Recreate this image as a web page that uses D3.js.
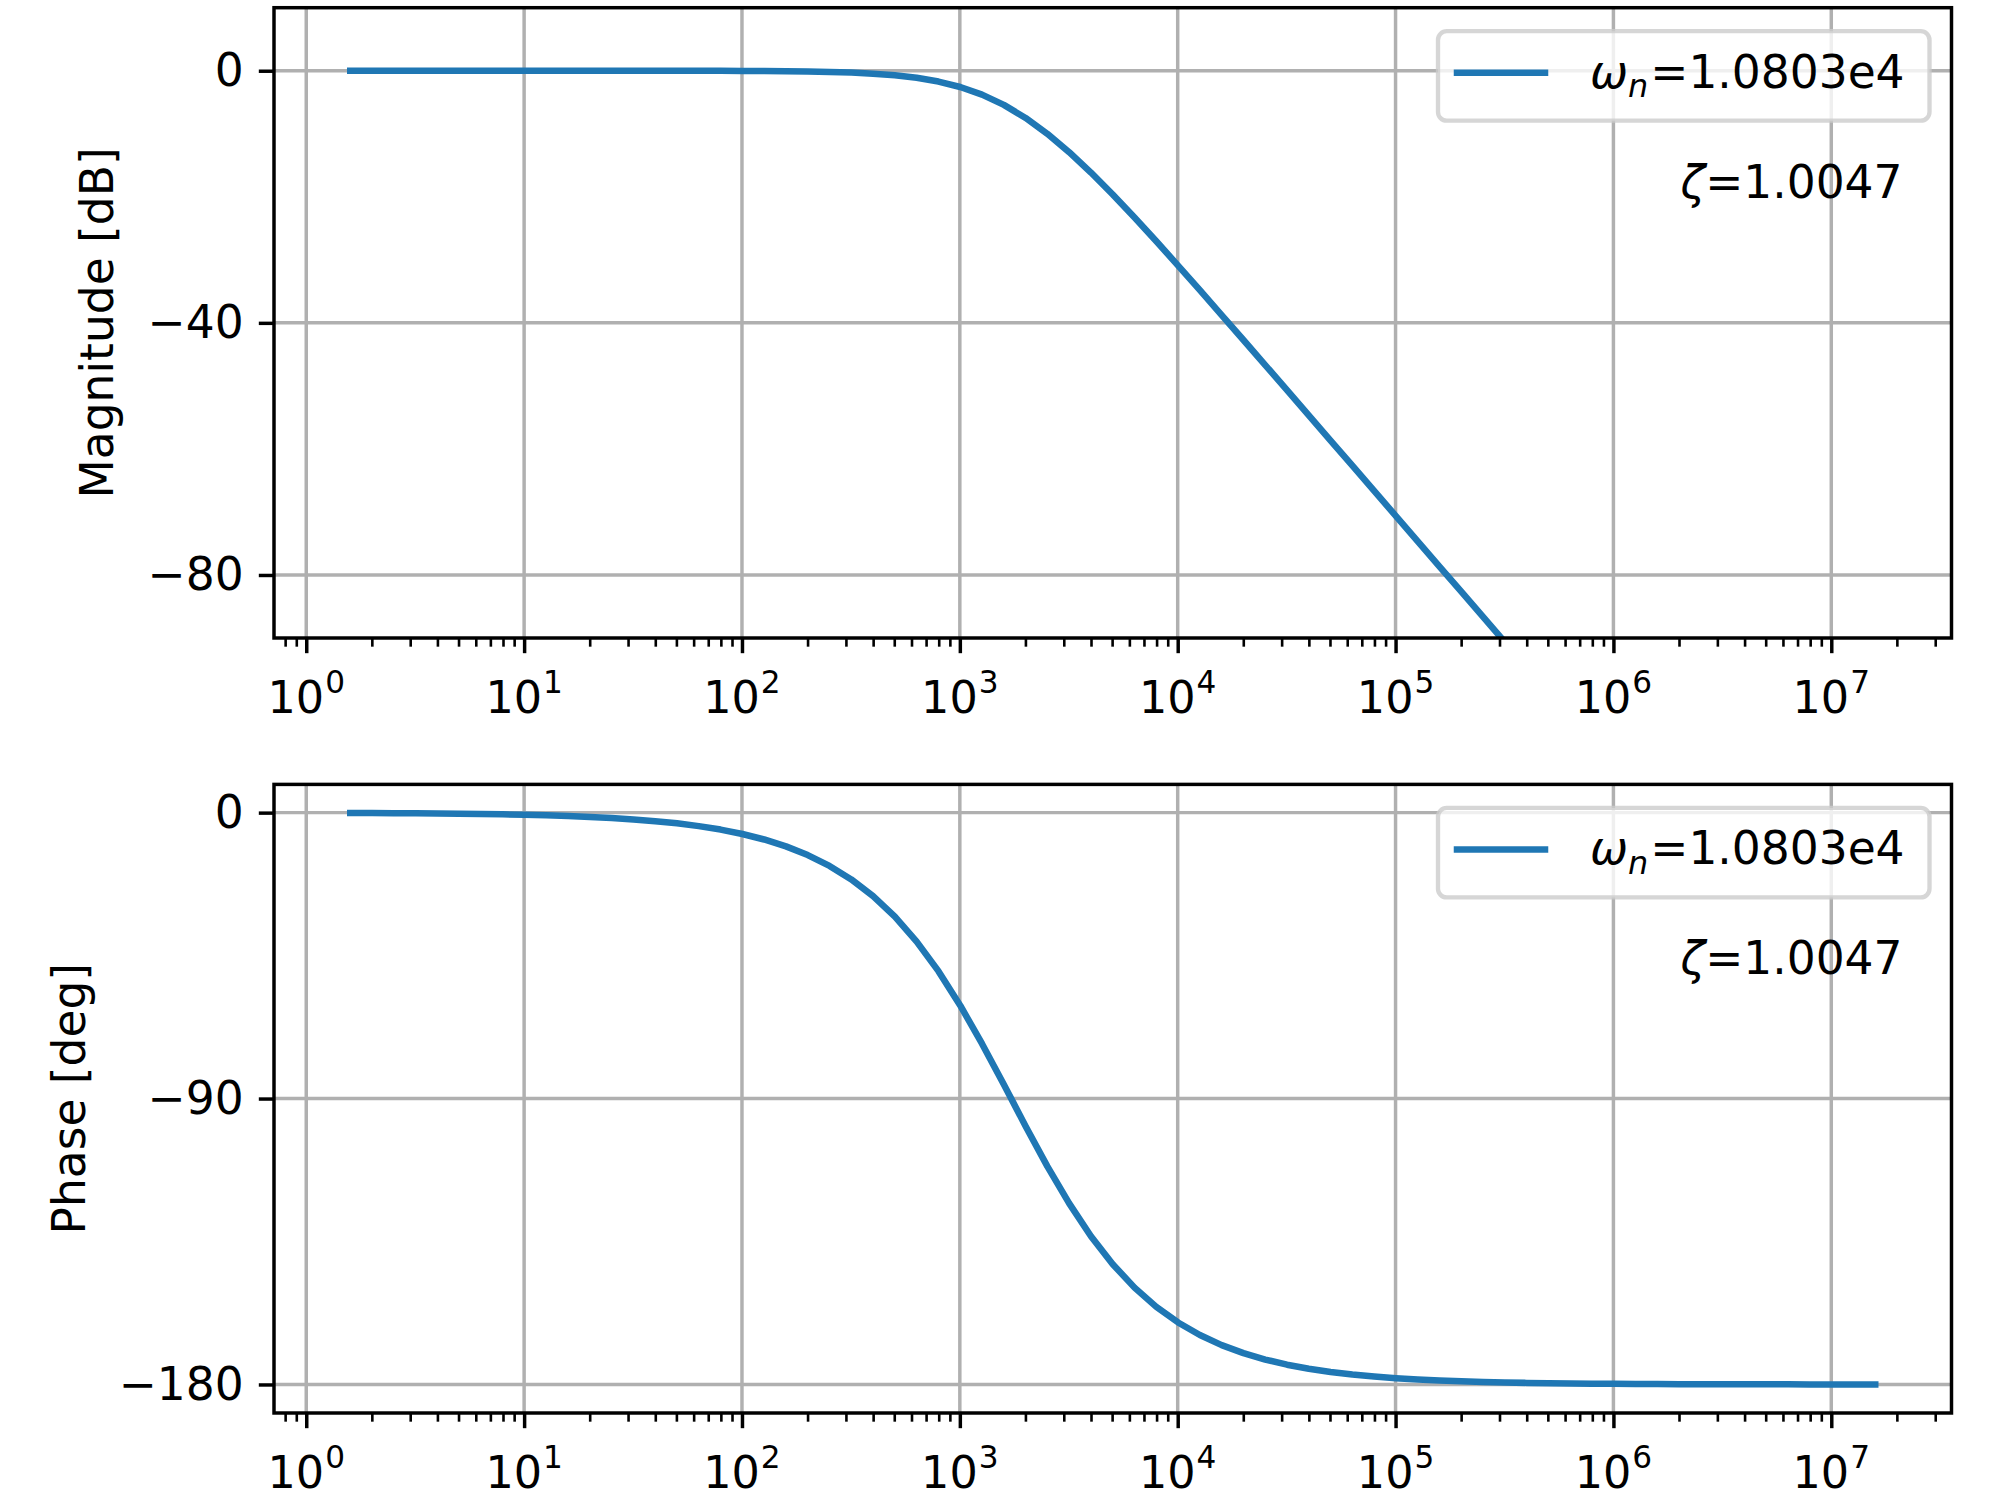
<!DOCTYPE html>
<html>
<head>
<meta charset="utf-8">
<script src="https://cdn.jsdelivr.net/npm/d3@7"></script>
<style>
  body { margin: 0; background: #ffffff; }
  svg { display: block; }
  text { font-family: "DejaVu Sans", sans-serif; fill: #000; }
</style>
</head>
<body>
<svg id="chart" width="2000" height="1499"></svg>
<script>
// ---------------- data ----------------
const freqHz = [
  1.592, 2.004, 2.522, 3.176, 3.998, 5.033, 6.336, 7.977, 10.04, 12.64,
  15.92, 20.04, 25.22, 31.76, 39.98, 50.33, 63.36, 79.77, 100.4, 126.4,
  159.2, 200.4, 252.2, 317.6, 399.8, 503.3, 633.6, 797.7, 1004, 1264,
  1592, 2004, 2522, 3176, 3998, 5033, 6336, 7977, 10042, 12642,
  15915, 20036, 25224, 31755, 39978, 50329, 63361, 79767, 100421, 126422,
  159155, 200364, 252243, 317554, 399777, 503292, 633609, 797667, 1004210, 1264220,
  1591550, 2003640, 2522430, 3175540, 3997770, 5032920, 6336090, 7976670, 10042100, 12642200,
  15915500
];
const magnitudeDb = [
  0.0000, 0.0000, 0.0000, 0.0000, 0.0000, -0.0001, -0.0001, -0.0002, -0.0003, -0.0005,
  -0.0008, -0.0012, -0.0019, -0.0030, -0.0048, -0.0076, -0.0120, -0.0190, -0.0302, -0.0477,
  -0.0755, -0.1193, -0.1883, -0.2966, -0.4653, -0.7260, -1.1233, -1.7170, -2.5803, -3.7912,
  -5.416, -7.491, -10.008, -12.920, -16.154, -19.632, -23.286, -27.060, -30.914, -34.820,
  -38.761, -42.723, -46.699, -50.684, -54.674, -58.668, -62.665, -66.662, -70.661, -74.660,
  -78.659, -82.659, -86.658, -90.658, -94.658, -98.658, -102.658, -106.658, -110.658, -114.658,
  -118.658, -122.658, -126.658, -130.658, -134.658, -138.658, -142.658, -146.658, -150.658, -154.658,
  -158.658
];
const phaseDeg = [
  -0.107, -0.134, -0.169, -0.213, -0.268, -0.337, -0.424, -0.534, -0.672, -0.846,
  -1.066, -1.342, -1.689, -2.125, -2.676, -3.369, -4.241, -5.337, -6.716, -8.449,
  -10.626, -13.355, -16.767, -21.019, -26.286, -32.755, -40.592, -49.909, -60.690, -72.730,
  -85.600, -98.694, -111.351, -123.013, -133.324, -142.147, -149.519, -155.571, -160.484, -164.441,
  -167.612, -170.146, -172.165, -173.773, -175.052, -176.069, -176.877, -177.519, -178.029, -178.434,
  -178.756, -179.012, -179.215, -179.377, -179.505, -179.607, -179.688, -179.752, -179.803, -179.843,
  -179.876, -179.901, -179.922, -179.938, -179.951, -179.961, -179.969, -179.975, -179.980, -179.984,
  -179.988
];
const xTickExponents = [0, 1, 2, 3, 4, 5, 6, 7];
const magTicks = [0, -40, -80];
const magLimits = [-90, 10];
const phaseTicks = [0, -90, -180];
const legendParts = ["ω", "n", "=1.0803e4"];
const zetaParts = ["ζ", "=1.0047"];
const yLabels = ["Magnitude [dB]", "Phase [deg]"];

// ---------------- layout & style ----------------
const FS = 45.5;             // text size
const FSX = 44.5;            // x tick label size
const PT = 312.5 / 72;       // px per point
const LINE_COLOR = "#1f77b4";
const GRID_COLOR = "#b0b0b0";
const axLeft = 274, axRight = 1951.5;

const svg = d3.select("#chart");
svg.append("rect").attr("width", 2000).attr("height", 1499).attr("fill", "#fff");

// x scale with matplotlib-like 5% margins in log space
const lx = d3.extent(freqHz).map(Math.log10);
const lpad = (lx[1] - lx[0]) * 0.05;
const x = d3.scaleLog()
  .domain([Math.pow(10, lx[0] - lpad), Math.pow(10, lx[1] + lpad)])
  .range([axLeft, axRight]);

const pe = d3.extent(phaseDeg);
const ppad = (pe[1] - pe[0]) * 0.05;

const panels = [
  { top: 7.7, bottom: 638, values: magnitudeDb, domain: magLimits, ticks: magTicks,
    label: yLabels[0], labelX: 113 },
  { top: 784.4, bottom: 1413, values: phaseDeg, domain: [pe[0] - ppad, pe[1] + ppad], ticks: phaseTicks,
    label: yLabels[1], labelX: 85 }
];

// minor tick values
const minorTicks = [];
for (let e = -1; e <= 7; e++) {
  for (let m = 2; m <= 9; m++) {
    const v = m * Math.pow(10, e);
    if (v >= x.domain()[0] && v <= x.domain()[1]) minorTicks.push(v);
  }
}
const majorTicks = xTickExponents.map(e => Math.pow(10, e));

panels.forEach((p, i) => {
  const y = d3.scaleLinear().domain(p.domain).range([p.bottom, p.top]);
  const g = svg.append("g");
  const clipId = "clip" + i;
  svg.append("clipPath").attr("id", clipId)
    .append("rect").attr("x", axLeft).attr("y", p.top)
    .attr("width", axRight - axLeft).attr("height", p.bottom - p.top);

  // grid
  const grid = g.append("g").attr("stroke", GRID_COLOR).attr("stroke-width", 0.8 * PT);
  grid.selectAll("line.vx").data(majorTicks).join("line")
    .attr("x1", d => x(d)).attr("x2", d => x(d)).attr("y1", p.top).attr("y2", p.bottom);
  grid.selectAll("line.hy").data(p.ticks).join("line")
    .attr("x1", axLeft).attr("x2", axRight).attr("y1", d => y(d)).attr("y2", d => y(d));

  // data line
  const line = d3.line().x((d, j) => x(freqHz[j])).y(d => y(d));
  g.append("path").datum(p.values)
    .attr("clip-path", `url(#${clipId})`)
    .attr("fill", "none").attr("stroke", LINE_COLOR)
    .attr("stroke-width", 1.5 * PT)
    .attr("stroke-linejoin", "round").attr("stroke-linecap", "square")
    .attr("d", line);

  // y axis ticks
  const yAxis = d3.axisLeft(y).tickValues(p.ticks).tickSize(3.5 * PT).tickPadding(3.5 * PT);
  const ya = g.append("g").attr("transform", `translate(${axLeft},0)`).call(yAxis);
  ya.select(".domain").remove();
  ya.selectAll(".tick line").attr("stroke", "#000").attr("stroke-width", 0.8 * PT);
  ya.selectAll(".tick text").attr("font-size", FS).attr("font-family", "DejaVu Sans");

  // x axis: major + minor ticks
  const xMajor = d3.axisBottom(x).tickValues(majorTicks).tickSize(3.5 * PT).tickFormat("");
  const xa = g.append("g").attr("transform", `translate(0,${p.bottom})`).call(xMajor);
  xa.select(".domain").remove();
  xa.selectAll(".tick line").attr("stroke", "#000").attr("stroke-width", 0.8 * PT);
  const xMinor = d3.axisBottom(x).tickValues(minorTicks).tickSize(2 * PT).tickFormat("");
  const xm = g.append("g").attr("transform", `translate(0,${p.bottom})`).call(xMinor);
  xm.select(".domain").remove();
  xm.selectAll(".tick line").attr("stroke", "#000").attr("stroke-width", 0.6 * PT);

  // x tick labels 10^n
  g.selectAll("text.xl").data(xTickExponents).join("text")
    .attr("class", "xl")
    .attr("x", d => x(Math.pow(10, d)))
    .attr("y", p.bottom + 75)
    .attr("text-anchor", "middle")
    .attr("font-size", FSX)
    .each(function(d) {
      const t = d3.select(this);
      t.append("tspan").text("10");
      t.append("tspan").attr("dx", 1).attr("dy", -0.44 * FSX).attr("font-size", FSX * 0.7).text(d);
    });

  // spines
  g.append("rect").attr("x", axLeft).attr("y", p.top)
    .attr("width", axRight - axLeft).attr("height", p.bottom - p.top)
    .attr("fill", "none").attr("stroke", "#000").attr("stroke-width", 0.8 * PT)
    .attr("stroke-linecap", "square");

  // y label
  g.append("text")
    .attr("transform", `translate(${p.labelX},${(p.top + p.bottom) / 2}) rotate(-90)`)
    .attr("text-anchor", "middle").attr("font-size", FS)
    .text(p.label);

  // legend
  const bx0 = axRight - 513.5, bx1 = axRight - 22;
  const by0 = p.top + 23.5, by1 = p.top + 113;
  const leg = g.append("g");
  leg.append("rect").attr("x", bx0).attr("y", by0)
    .attr("width", bx1 - bx0).attr("height", by1 - by0)
    .attr("rx", 8.7).attr("ry", 8.7)
    .attr("fill", "#ffffff").attr("fill-opacity", 0.8)
    .attr("stroke", "#cccccc").attr("stroke-opacity", 0.8).attr("stroke-width", 1.0 * PT);
  leg.append("line")
    .attr("x1", bx0 + 19).attr("x2", bx0 + 19 + 88)
    .attr("y1", p.top + 65).attr("y2", p.top + 65)
    .attr("stroke", LINE_COLOR).attr("stroke-width", 1.5 * PT).attr("stroke-linecap", "square");
  const lt = leg.append("text").attr("x", bx0 + 152).attr("y", p.top + 80).attr("font-size", FS);
  lt.append("tspan").attr("font-style", "italic").text(legendParts[0]);
  lt.append("tspan").attr("font-style", "italic").attr("font-size", FS * 0.7)
    .attr("dy", 0.2 * FS).text(legendParts[1]);
  lt.append("tspan").attr("dy", -0.2 * FS).attr("dx", 2).text(legendParts[2]);

  // zeta annotation
  const zt = g.append("text").attr("x", axRight - 49).attr("y", p.top + 190)
    .attr("text-anchor", "end").attr("font-size", FS);
  zt.append("tspan").attr("font-style", "italic").text(zetaParts[0]);
  zt.append("tspan").text(zetaParts[1]);
});
</script>
</body>
</html>
